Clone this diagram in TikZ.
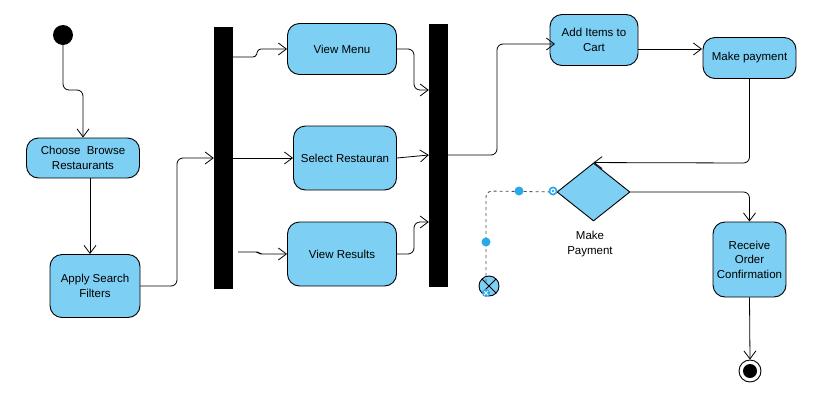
\documentclass[tikz,border=0pt]{standalone}
\usepackage{fontspec}
\setmainfont{Liberation Sans}
\usetikzlibrary{arrows.meta,shapes.geometric}
\definecolor{actblue}{HTML}{7DCFF4}
\definecolor{handleblue}{HTML}{29A8EA}
\begin{document}
\begin{tikzpicture}[x=1pt,y=-1pt,font=\fontsize{11.5}{14.5}\selectfont]
      % Define styles for nodes
      \tikzstyle{activity} = [draw, rectangle, rounded corners=12pt,
      fill=actblue, line width=0.9pt, align=center, inner sep=0pt]
      \tikzstyle{bar} = [fill=black, rectangle, inner sep=0pt,
      minimum width=19pt]
      \tikzstyle{flow} = [line width=0.8pt, rounded corners=6pt,
      -{Straight Barb[length=8pt,width=12pt]}]
      \tikzstyle{handle} = [circle, fill=handleblue, inner sep=0pt,
      minimum size=9pt]
      \useasboundingbox (0,0) rectangle (815,405);

      % Start and end states
      \node[circle, fill=black, minimum size=20pt, inner sep=0pt] (start) at (63,35) {};
      \node[circle, draw, line width=0.9pt, minimum size=22pt, inner sep=0pt] (finish) at (750,371) {};
      \fill (finish) circle (7pt);

      % Activities
      \node[activity, minimum width=113pt, minimum height=40pt] (choose) at (83,158) {Choose\ \ Browse\\Restaurants};
      \node[activity, minimum width=90pt, minimum height=63pt] (apply) at (95,286) {Apply Search\\Filters};
      \node[activity, minimum width=109pt, minimum height=51pt] (menu) at (342,49) {View Menu};
      \node[activity, minimum width=103pt, minimum height=64pt] (select) at (345,158) {Select Restauran};
      \node[activity, minimum width=109pt, minimum height=64pt] (results) at (342,254) {View Results};
      \node[activity, minimum width=88pt, minimum height=51pt] (cart) at (594,40) {Add Items to\\Cart};
      \node[activity, minimum width=93pt, minimum height=41pt] (pay) at (749.5,58) {Make payment};
      \node[activity, minimum width=73pt, minimum height=75pt] (receive) at (749.5,259.5) {Receive\\Order\\Confirmation};

      % Fork and join bars
      \node[bar, minimum height=262pt] (fork) at (223.5,158) {};
      \node[bar, minimum height=263pt] (join) at (438.5,155.5) {};

      % Decision
      \node[diamond, draw, fill=actblue, line width=0.9pt, inner sep=0pt,
      minimum width=73pt, minimum height=58pt] (decide) at (593.5,192) {};
      \node[align=center] (decidelabel) at (590,244) {Make\\Payment};

      % Flow final
      \node[circle, draw, fill=actblue, line width=0.9pt, minimum size=20pt, inner sep=0pt] (stop) at (489,286) {};
      \draw[line width=0.8pt] ([shift={(-7,-7)}]stop.center) -- ([shift={(7,7)}]stop.center);
      \draw[line width=0.8pt] ([shift={(7,-7)}]stop.center) -- ([shift={(-7,7)}]stop.center);

      % Connections
      \draw[flow] (start.south) -- (63,90) -- (83,90) -- (choose.north);
      \draw[flow] ([xshift=7pt]choose.south) -- ([xshift=7pt]choose.south |- apply.north);
      \draw[flow] (apply.east) -- (177,286) -- (177,158) -- (fork.west |- 0,158);

      \draw[flow, rounded corners=3pt] (fork.east |- 0,57) -- (256,57) -- (258,49) -- (menu.west);
      \draw[flow] (fork.east |- select.west) -- (select.west);
      \draw[flow, rounded corners=2pt] (238,252) -- (258,252) -- (260,254) -- (results.west);

      \draw[flow] (menu.east) -- (414,49) -- (414,90) -- (join.west |- 0,90);
      \draw[flow] (select.east) -- (join.west |- 0,155);
      \draw[flow] (results.east) -- (414,254) -- (414,222) -- (join.west |- 0,222);

      \draw[flow] (join.east |- 0,155) -- (497,155) -- (497,44) -- (555,44);
      \draw[flow] (cart.east |- 0,49) -- (702,49);
      \draw[flow] (pay.south) -- (749.5,163) -- (decide.north);
      \draw[flow] (decide.east) -- (749.5,192) -- (receive.north);
      \draw[flow] (receive.south) -- (finish.north);

      % Dashed selected connector with handles
      \draw[dashed, line width=0.8pt, black!70, rounded corners=6pt] (decide.west) -- (486,191) -- (486,283);
      \node[handle] (h1) at (519,191) {};
      \node[handle] (h2) at (486,242) {};
      \node[handle] (h3) at (553,191) {};
      \fill[white] (h3) circle (2.6pt);
      \fill[handleblue] (h3) circle (1.4pt);
      \node[handle, minimum size=8pt] (h4) at (486,293) {};
      \draw[white, line width=0.8pt] ([shift={(-2,-2)}]h4.center) -- ([shift={(2,2)}]h4.center);
      \draw[white, line width=0.8pt] ([shift={(2,-2)}]h4.center) -- ([shift={(-2,2)}]h4.center);
    \end{tikzpicture}
\end{document}
